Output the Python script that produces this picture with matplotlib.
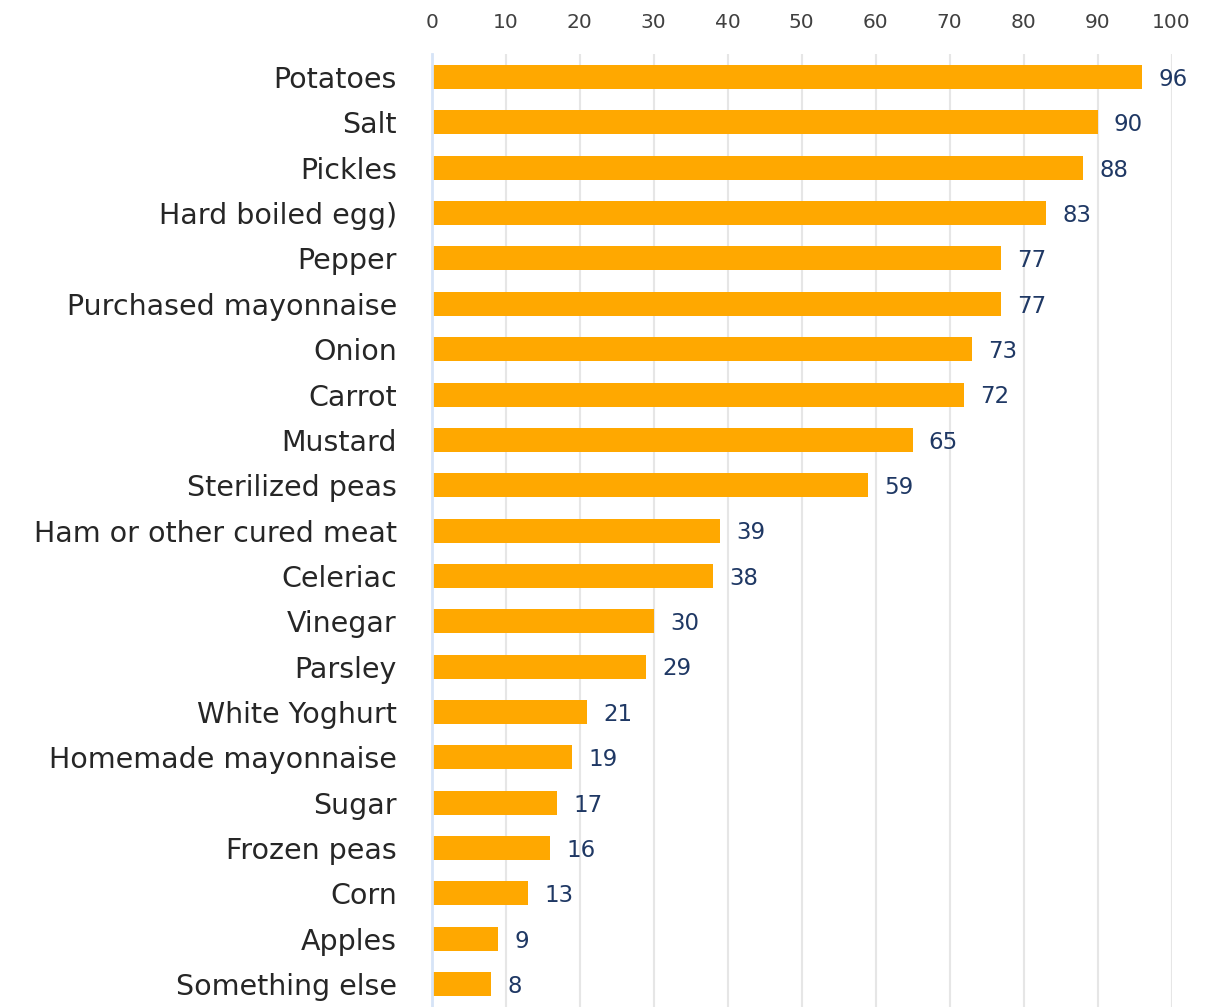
import matplotlib.pyplot as plt

# Ingredients and share of respondents (%)
ingredients = ["Potatoes", "Salt", "Pickles", "Hard boiled egg)", "Pepper",
               "Purchased mayonnaise", "Onion", "Carrot", "Mustard",
               "Sterilized peas", "Ham or other cured meat", "Celeriac",
               "Vinegar", "Parsley", "White Yoghurt", "Homemade mayonnaise",
               "Sugar", "Frozen peas", "Corn", "Apples", "Something else"]
shares = [96, 90, 88, 83, 77, 77, 73, 72, 65, 59, 39, 38, 30, 29, 21, 19,
          17, 16, 13, 9, 8]
x_ticks = [0, 10, 20, 30, 40, 50, 60, 70, 80, 90, 100]

fig = plt.figure(figsize=(12.09, 10.07), dpi=100)
ax = fig.add_axes([0.357, -0.003, 0.612, 0.949])

pos = list(range(len(ingredients)))
ax.barh(pos, shares, height=0.53, color="#FFA800", zorder=3)

# value labels to the right of each bar
for p, v in zip(pos, shares):
    ax.text(v + 2.2, p + 0.05, str(v), va="center", ha="left",
            fontsize=16.5, color="#1F3864")

ax.set_ylim(len(ingredients) - 0.43, -0.5)
ax.set_yticks(pos)
ax.set_yticklabels(ingredients, fontsize=20.5, color="#262626")
ax.set_xlim(0, 100)
ax.set_xticks(x_ticks)
ax.set_xticklabels([str(t) for t in x_ticks], fontsize=14.5, color="#404040")
ax.xaxis.tick_top()
ax.tick_params(axis="both", length=0)
ax.tick_params(axis="x", pad=16)
ax.tick_params(axis="y", pad=25)

ax.grid(axis="x", color="#E6E6E6", linewidth=1.5, zorder=0)
for side in ["top", "right", "bottom"]:
    ax.spines[side].set_visible(False)
ax.spines["left"].set_color("#D6E4F7")
ax.spines["left"].set_linewidth(2)
ax.spines["left"].set_zorder(4)

fig.savefig("out.png", dpi=100)
